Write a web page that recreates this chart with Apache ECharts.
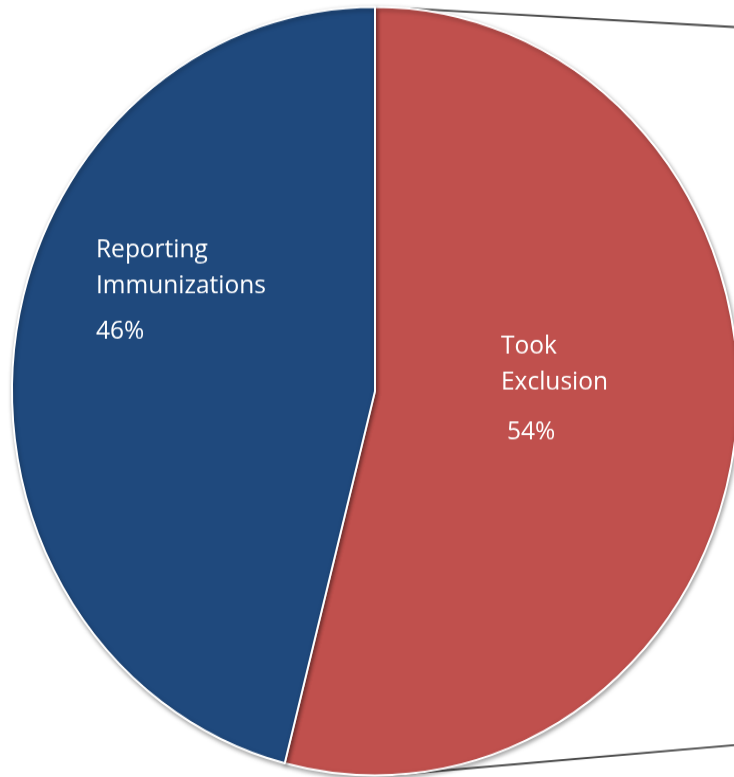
<!DOCTYPE html>
<html>
<head>
<meta charset="utf-8">
<script src="https://cdn.jsdelivr.net/npm/echarts@6/dist/echarts.min.js"></script>
<style>
html{margin:0;padding:0;background:#fff;overflow:hidden;}
body{margin:0;padding:0;background:#fff;width:734px;height:777px;}
#c{width:734px;height:734px;transform:scaleY(1.0586);transform-origin:0 0;}
</style>
</head>
<body>
<div id="c"></div>
<script>
const categories = ['Took Exclusion', 'Reporting Immunizations'];
const nameLines = [['Took', 'Exclusion'], ['Reporting', 'Immunizations']];
const values = [54, 46];
const percentLabels = ['54%', '46%'];
const colors = ['#C0504D', '#1F497D'];

const chart = echarts.init(document.getElementById('c'), null, {renderer: 'canvas'});

const labelPos = [
  {x: 501, y: 310, pctLH: 60, pctPad: 6},
  {x: 96, y: 219, pctLH: 53, pctPad: 0}
];

const data = categories.map((c, i) => ({
  name: c,
  value: values[i],
  itemStyle: {color: colors[i]},
  label: {
    formatter: nameLines[i].map(s => '{n|' + s + '}').join('\n') + '\n{p|' + percentLabels[i] + '}',
    rich: {
      n: {fontSize: 24.5, lineHeight: 34, color: '#fff', fontFamily: 'Open Sans'},
      p: {fontSize: 24.5, lineHeight: labelPos[i].pctLH, color: '#fff', fontFamily: 'Open Sans', padding: [0, 0, 0, labelPos[i].pctPad]}
    }
  }
}));

const cx = 375, cy = 369.4, r = 363;

chart.setOption({
  animation: false,
  backgroundColor: '#fff',
  graphic: [
    {type: 'line', shape: {x1: 407, y1: 7.8, x2: 734, y2: 25.5}, style: {stroke: '#4a4a4a', lineWidth: 1.8}, z: 0},
    {type: 'line', shape: {x1: 393, y1: 732, x2: 734, y2: 703.8}, style: {stroke: '#4a4a4a', lineWidth: 1.8}, z: 0}
  ],
  series: [{
    type: 'pie',
    center: [cx, cy],
    radius: [0, r],
    startAngle: 90,
    clockwise: true,
    z: 5,
    data: data,
    itemStyle: {
      borderColor: '#fff',
      borderWidth: 2,
      shadowBlur: 4,
      shadowColor: 'rgba(0,0,0,0.35)',
      shadowOffsetX: 1,
      shadowOffsetY: 2
    },
    label: {show: true, position: 'inside', align: 'left', verticalAlign: 'top', color: '#fff'},
    labelLine: {show: false},
    labelLayout: function (p) {
      const lp = labelPos[p.dataIndex];
      return {x: lp.x, y: lp.y, align: 'left', verticalAlign: 'top'};
    },
    emphasis: {disabled: true}
  }]
});
</script>
</body>
</html>
